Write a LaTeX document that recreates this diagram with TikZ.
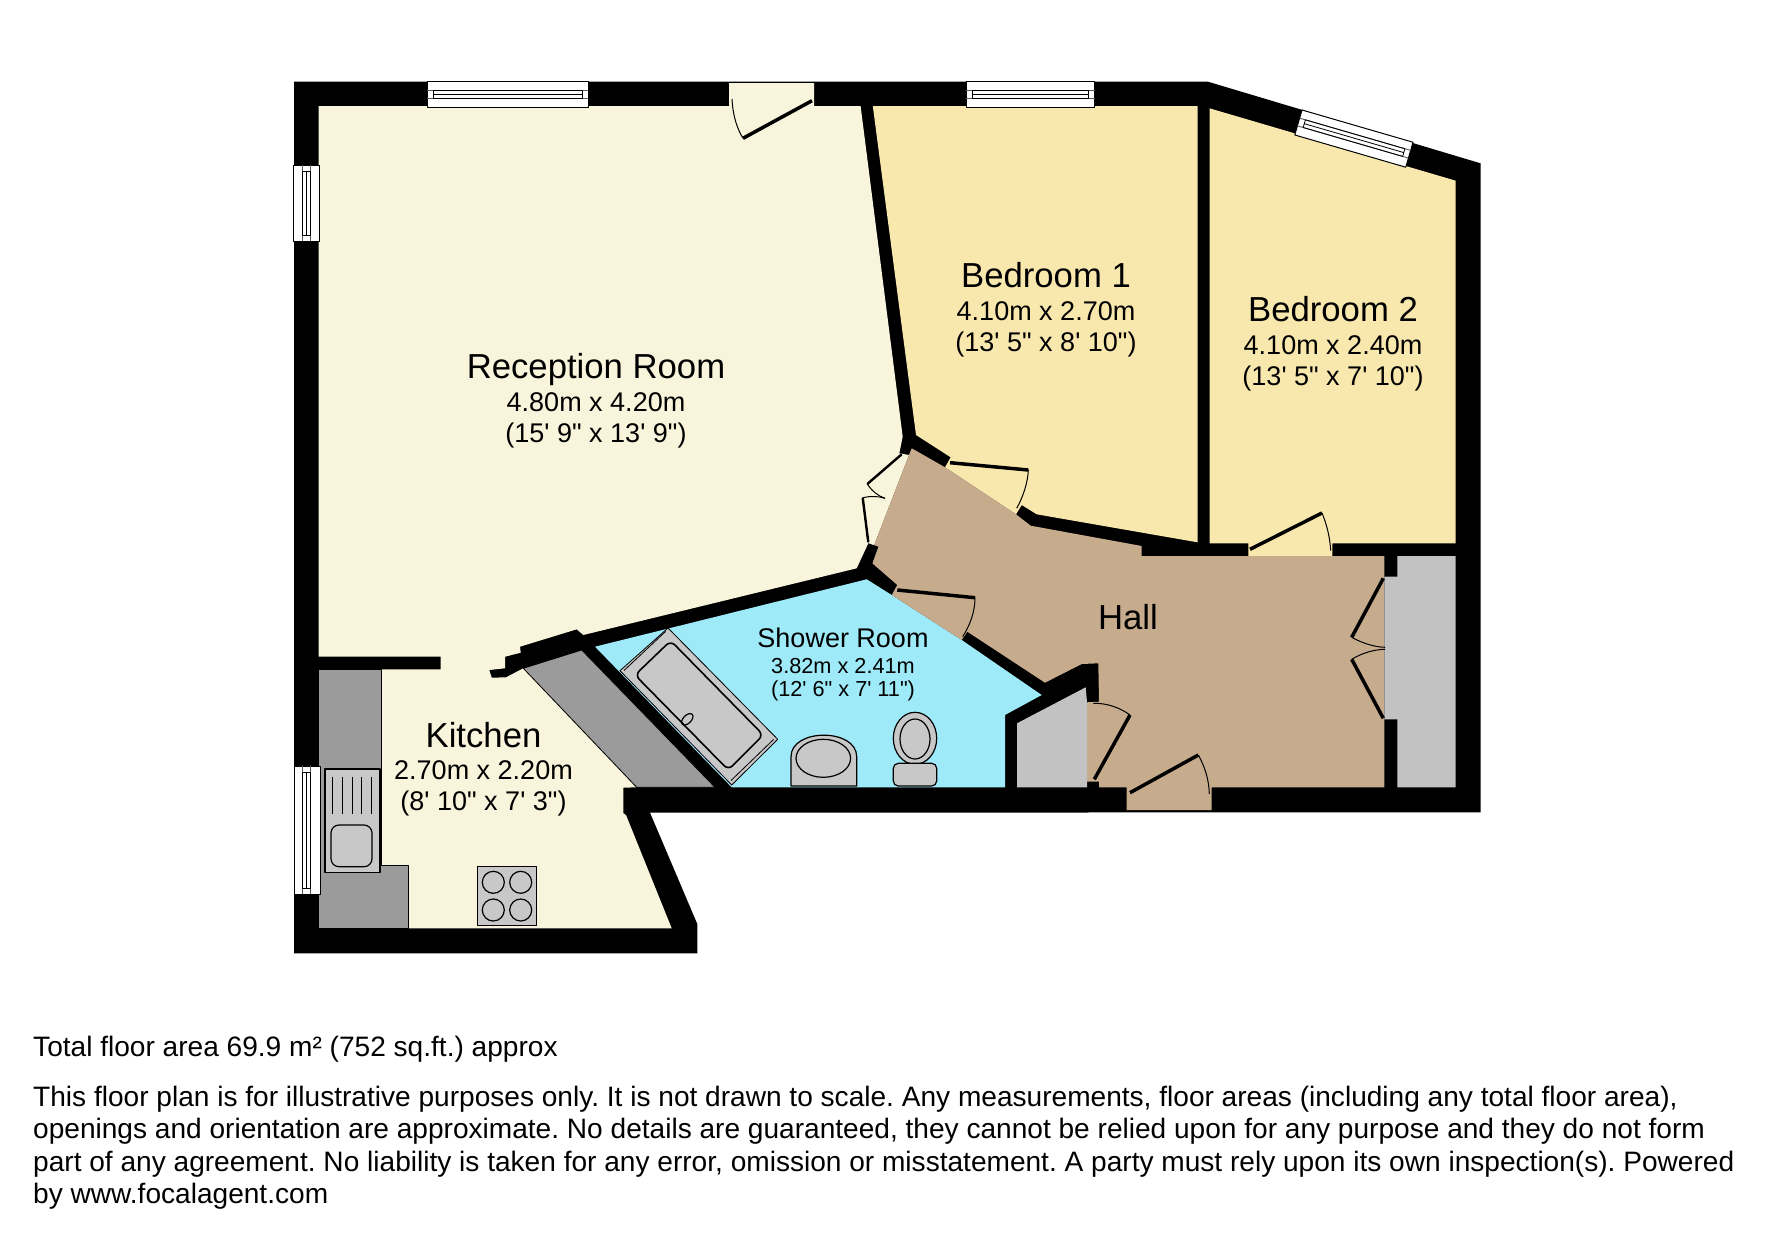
\documentclass[tikz,border=0pt]{standalone}
\usepackage{fontspec}
\newfontfamily\planfont{Liberation Sans}
\frenchspacing
\definecolor{receptioncol}{HTML}{F9F4DC}
\definecolor{bedcol}{HTML}{F9E8AE}
\definecolor{hallcol}{HTML}{C6AB8C}
\definecolor{showercol}{HTML}{9FEAF9}
\definecolor{closetcol}{HTML}{C2C2C2}
\definecolor{countercol}{HTML}{9B9B9B}
\definecolor{fitcol}{HTML}{C8C8C8}
\tikzset{
  roomname/.style={anchor=base, inner sep=0pt, font=\planfont\fontsize{34.7}{35}\selectfont},
  roomdim/.style={anchor=base, inner sep=0pt, font=\planfont\fontsize{27}{28}\selectfont},
  smallname/.style={anchor=base, inner sep=0pt, font=\planfont\fontsize{27}{28}\selectfont},
  smalldim/.style={anchor=base, inner sep=0pt, font=\planfont\fontsize{21.7}{22}\selectfont},
  footer/.style={anchor=base west, inner sep=0pt, font=\planfont\fontsize{28.08}{28}\selectfont},
  doorleaf/.style={line width=3.5pt},
  thinleaf/.style={line width=2.4pt},
  doorarc/.style={line width=1pt},
  fitting/.style={draw, line width=1.2pt, fill=fitcol},
  winline/.style={draw, line width=1pt, fill=white}
}
\newcommand{\planwin}[4]{%
  \begin{scope}[shift={(#1,#2)}, rotate=#3]
    \draw[winline] (0,0) rectangle (#4,26);
    \draw[line width=.9pt, black!65] (0,8.5) -- (#4,8.5) (0,16.5) -- (#4,16.5);
    \draw[line width=.8pt] (6,8.5) rectangle (#4-6,16.5) (6,12.5) -- (#4-6,12.5);
  \end{scope}}
\begin{document}
\begin{tikzpicture}[x=1pt, y=-1pt, line join=round]
  \useasboundingbox (0,0) rectangle (1771,1239);
  % outline
  \fill[black] (294,81.7) -- (1208,81.7) -- (1480.5,163.3) -- (1480.5,812.3) -- (650,812.7) -- (697.3,924) -- (697.3,953.3) -- (294,953.3) -- cycle;
  % rooms
  \fill[receptioncol] (318.5,106) -- (729,106) -- (729,83) -- (814,83) -- (814,106) -- (860.6,106) -- (902.7,436.7) -- (899.3,453.3) -- (909,455) -- (873,548) -- (868.3,543.3) -- (856.7,568.3) -- (583.3,635) -- (576.7,629.3) -- (520,646.7) -- (520.7,652.7) -- (505,656.7) -- (505,668.3) -- (489.3,670) -- (491.7,677.7) -- (506,677.3) -- (523.3,668.3) -- (636.7,787.3) -- (623.3,787.7) -- (623.3,813.3) -- (626,815) -- (671.7,928.3) -- (318.3,928.3) -- (318.3,669.3) -- (440.7,669.3) -- (440.7,656.7) -- (318.5,656.7) -- cycle;
  \fill[bedcol] (872.8,106) -- (1197.5,106) -- (1197.5,542.3) -- (1036.7,514.3) -- (1021.7,505) -- (1016,514.3) -- (945,467.3) -- (950.7,457.3) -- (916,435) -- cycle;
  \fill[bedcol] (1209.5,108.3) -- (1455.7,180.7) -- (1455.7,543.3) -- (1332.3,543.3) -- (1332.3,556) -- (1248.3,556) -- (1248.3,543.3) -- (1209.5,543.3) -- cycle;
  \fill[showercol] (595,646.7) -- (866.7,579.3) -- (891.7,595) -- (961.7,640) -- (1041.7,695) -- (1005,715) -- (1005,787.3) -- (731.7,787.3) -- cycle;
  \fill[hallcol] (909,455) -- (873,548) -- (872.3,563.3) -- (897.3,585) -- (891.7,595) -- (961.7,640) -- (967.3,631.7) -- (1045,682.7) -- (1081.7,664) -- (1098.3,663.3) -- (1099,701.7) -- (1087,702.3) -- (1087,781.7) -- (1099,781.7) -- (1099,787.3) -- (1126.7,787.3) -- (1126.7,810) -- (1211.7,810) -- (1211.7,787.3) -- (1384.3,787.3) -- (1384.3,556) -- (1141.7,556) -- (1141.7,546) -- (1030.7,525.7) -- (1016,514.3) -- (945,467.3) -- (911.7,448.3) -- cycle;
  \fill[black] (868.3,543.3) -- (878.3,546.7) -- (872.3,563.3) -- (864,562) -- cycle;
  \fill[closetcol] (1397.3,556) -- (1455.7,556) -- (1455.7,787.3) -- (1397.3,787.3) -- (1397.3,719.3) -- (1384.3,719.3) -- (1384.3,576.7) -- (1397.3,576.7) -- cycle;
  \fill[closetcol] (1017,723.3) -- (1085.7,687.3) -- (1087,702.3) -- (1087,787.3) -- (1017,787.3) -- cycle;
  % kitchen units
  \draw[fill=countercol, line width=.8pt] (523.3,668.3) -- (581.7,650) -- (715,787.3) -- (636.7,787.3) -- cycle;
  \draw[fill=countercol, line width=.8pt] (318.3,669.3) -- (381.7,669.3) -- (381.7,865) -- (408.3,865) -- (408.3,928.3) -- (318.3,928.3) -- cycle;
  \draw[fitting] (325,769) rectangle (380,872.7);
  \foreach \gx in {332.7,342.3,352,361.7,371.7}
    \draw[line width=1pt] (\gx,776.7) -- (\gx,814);
  \draw[fitting, rounded corners=8pt] (331,825) rectangle (372,866.7);
  \draw[fitting] (477.3,866.7) rectangle (536.7,925.7);
  \foreach \hx in {493.3,520.7}
    \foreach \hy in {882.3,910}
      \draw[line width=1.2pt] (\hx,\hy) circle (11);
  % bathroom
  \draw[fitting, line width=.8pt] (668,628) -- (777.7,739.3) -- (731.7,785) -- (620,670.7) -- cycle;
  \draw[line width=.8pt] (665.5,631.5) -- (624,670.5) (773.5,739.5) -- (731,780.5);
  \draw[fitting, line width=1.6pt, rounded corners=6pt] (670.7,640.7) -- (763.3,735) -- (728.3,770) -- (635,675) -- cycle;
  \draw[line width=1.2pt, rotate around={45:(687.3,719.3)}] (687.3,719.3) ellipse (7 and 4);
  \draw[fitting] (791,786) -- (791,756.7) .. controls (791,728) and (856.7,728) .. (856.7,756.7) -- (856.7,786) -- cycle;
  \draw[line width=1.2pt] (823.3,758.3) ellipse (27.3 and 19);
  \draw[fitting] (915,738.3) ellipse (21.7 and 26);
  \draw[line width=1.2pt] (915,739) ellipse (15 and 20);
  \draw[fitting, rounded corners=5pt] (893.3,763.3) rectangle (936.7,786);
  % windows
  \planwin{427}{81.5}{0}{161}
  \planwin{966.3}{81.5}{0}{128.3}
  \planwin{293.8}{241.3}{90}{76}
  \planwin{294}{894}{90}{128}
  \planwin{1302}{110}{-16.2}{115.6}
  % doors
  \draw[doorleaf] (812,100.7) -- (743,138.3);
  \draw[doorarc] (732,99) .. controls (733,118) and (738,130) .. (743,138.3);
  \draw[doorleaf] (950,462.7) -- (1028.3,470);
  \draw[doorarc] (1028.3,470) .. controls (1028,482) and (1023,497) .. (1016.7,508.3);
  \draw[doorleaf] (897.3,590) -- (975,597.7);
  \draw[doorarc] (975,597.7) .. controls (975,612) and (970,625) .. (962.7,636.7);
  \draw[thinleaf] (901.7,454.3) -- (867.3,484);
  \draw[doorarc] (867.3,484) .. controls (872,491) and (878,496) .. (885,498.3);
  \draw[thinleaf] (868.3,542.3) -- (862.7,497.7);
  \draw[doorarc] (862.7,497.7) .. controls (870,496) and (878,496) .. (885,498.3);
  \draw[doorleaf] (1250,549.3) -- (1322,513);
  \draw[doorarc] (1322,513) .. controls (1327,525) and (1330,538) .. (1330.7,550.7);
  \draw[doorleaf] (1383.3,578.3) -- (1351.7,637.3);
  \draw[doorarc] (1351.7,637.3) .. controls (1362,643) and (1374,647) .. (1385,647.3);
  \draw[doorleaf] (1383.3,718.3) -- (1351.7,659.3);
  \draw[doorarc] (1351.7,659.3) .. controls (1362,653) and (1374,649.5) .. (1385,649.3);
  \draw[doorleaf] (1130,715) -- (1094.3,779.3);
  \draw[doorarc] (1093.3,703.3) .. controls (1106,703) and (1119,707) .. (1130,715);
  \draw[doorleaf] (1130,792.7) -- (1198.3,755);
  \draw[doorarc] (1198.3,755) .. controls (1205,767) and (1209,780) .. (1209.3,794);
  % labels
  \node[roomname] (reception) at (596,378) {Reception Room};
  \node[roomdim] (receptionm) at (596,411) {4.80m x 4.20m};
  \node[roomdim] (receptionft) at (596,442) {(15' 9" x 13' 9")};
  \node[roomname] (bedone) at (1046,287) {Bedroom 1};
  \node[roomdim] (bedonem) at (1046,320) {4.10m x 2.70m};
  \node[roomdim] (bedoneft) at (1046,351) {(13' 5" x 8' 10")};
  \node[roomname] (bedtwo) at (1333,321) {Bedroom 2};
  \node[roomdim] (bedtwom) at (1333,354) {4.10m x 2.40m};
  \node[roomdim] (bedtwoft) at (1333,385) {(13' 5" x 7' 10")};
  \node[roomname] (hall) at (1128,629) {Hall};
  \node[roomname] (kitchen) at (483.5,747.7) {Kitchen};
  \node[roomdim] (kitchenm) at (483.5,779) {2.70m x 2.20m};
  \node[roomdim] (kitchenft) at (483.5,810) {(8' 10" x 7' 3")};
  \node[smallname] (shower) at (843,647) {Shower Room};
  \node[smalldim] (showerm) at (843,673.3) {3.82m x 2.41m};
  \node[smalldim] (showerft) at (843,696.7) {(12' 6" x 7' 11")};
  % small print
  \node[footer] (total) at (33,1056) {Total floor area 69.9 m² (752 sq.ft.) approx};
  \node[footer] (lineone) at (33,1106) {This floor plan is for illustrative purposes only. It is not drawn to scale. Any measurements, floor areas (including any total floor area),};
  \node[footer] (linetwo) at (33,1138.3) {openings and orientation are approximate. No details are guaranteed, they cannot be relied upon for any purpose and they do not form};
  \node[footer] (linethree) at (33,1171) {part of any agreement. No liability is taken for any error, omission or misstatement. A party must rely upon its own inspection(s). Powered};
  \node[footer] (linefour) at (33,1203.2) {by www.focalagent.com};
\end{tikzpicture}
\end{document}
